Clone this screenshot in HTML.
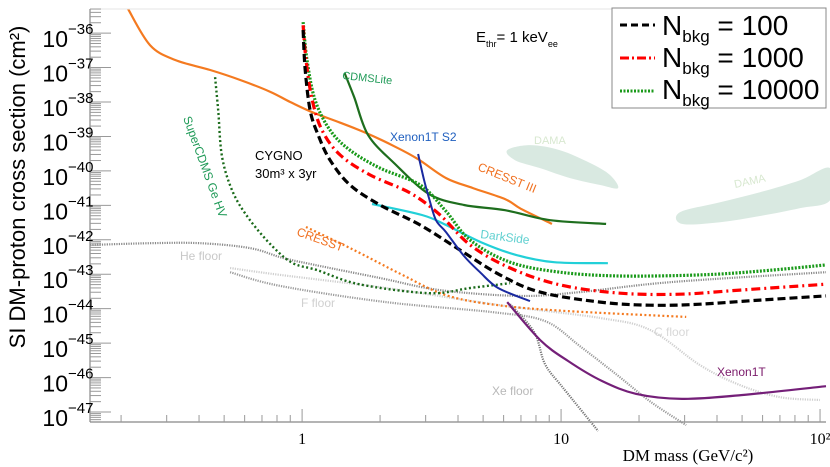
<!DOCTYPE html>
<html><head><meta charset="utf-8">
<style>
html,body{margin:0;padding:0;background:#fff;}
svg{display:block;font-family:"Liberation Sans",sans-serif;}
</style></head>
<body>
<svg id="chart" width="830" height="467" viewBox="0 0 830 467" xmlns="http://www.w3.org/2000/svg">
  <rect x="0" y="0" width="830" height="467" fill="#fff"/>
  <g id="regions"></g>
  <g id="series"></g>
  <g id="axes"></g>
  <g font-family="Liberation Sans, sans-serif">
    <text x="255" y="160" font-size="13" fill="#000">CYGNO</text>
    <text x="255" y="178" font-size="13" fill="#000">30m³ x 3yr</text>
    <text x="476" y="42" font-size="15" fill="#000">E<tspan font-size="9" dy="5">thr</tspan><tspan dy="-5">= 1 keV</tspan><tspan font-size="9" dy="5">ee</tspan></text>
    <text x="342" y="79" font-size="11" fill="#1f9a57" transform="rotate(6 342 79)">CDMSLite</text>
    <text x="390" y="141" font-size="12" fill="#1f5fbf">Xenon1T S2</text>
    <text x="477" y="170" font-size="12" fill="#f07020" transform="rotate(22 477 170)">CRESST III</text>
    <text x="534" y="144" font-size="11" fill="#d8e8d0">DAMA</text>
    <text x="735" y="188" font-size="11" fill="#d8e8d0" transform="rotate(-12 735 188)">DAMA</text>
    <text x="183" y="118" font-size="12" fill="#1f9a57" transform="rotate(70 183 118)">SuperCDMS Ge HV</text>
    <text x="296" y="235" font-size="12" fill="#f07020" transform="rotate(20 296 235)">CRESST</text>
    <text x="480" y="238" font-size="12" fill="#5fd0d0" transform="rotate(7 480 238)">DarkSide</text>
    <text x="180" y="260" font-size="12" fill="#c8c8c8">He floor</text>
    <text x="301" y="307" font-size="12" fill="#d0d0d0">F floor</text>
    <text x="654" y="336" font-size="12" fill="#d8d8d8">C floor</text>
    <text x="492" y="395" font-size="12" fill="#b8b8b8">Xe floor</text>
    <text x="717" y="376" font-size="12" fill="#7a1a6a">Xenon1T</text>
  </g>
  <g>
    <rect x="612" y="8" width="214" height="100" fill="#fff" stroke="#888" stroke-width="1"/>
    <line x1="620" y1="25" x2="655" y2="25" stroke="#000" stroke-width="3" stroke-dasharray="7,4"/>
    <text x="662" y="35" font-size="28" fill="#000">N<tspan font-size="17" dy="7">bkg</tspan><tspan dy="-7"> = 100</tspan></text>
    <line x1="620" y1="58" x2="655" y2="58" stroke="#f00" stroke-width="3" stroke-dasharray="9,3,2,3"/>
    <text x="662" y="67" font-size="28" fill="#000">N<tspan font-size="17" dy="7">bkg</tspan><tspan dy="-7"> = 1000</tspan></text>
    <line x1="620" y1="91" x2="655" y2="91" stroke="#1a9a1a" stroke-width="3" stroke-dasharray="2,1.5"/>
    <text x="662" y="99" font-size="28" fill="#000">N<tspan font-size="17" dy="7">bkg</tspan><tspan dy="-7"> = 10000</tspan></text>
  </g>
</svg>
<script>
// axis ranges (log10 of mass in GeV, log10 of cross-section in cm^2)
const xLogMin = -0.819, xLogMax = 2.023;
const yLogTop = -35.3, yLogBottom = -47.29;
const xTickExps = [0, 1, 2];
const xTickLabels = ["1", "10", "10²"];
const yTickExps = [-36,-37,-38,-39,-40,-41,-42,-43,-44,-45,-46,-47];
const yTickLabels = ["-36","-37","-38","-39","-40","-41","-42","-43","-44","-45","-46","-47"];

// series data: logMass = log10(m/GeV), logSigma = log10(sigma/cm^2)
const n100Mass  = [0.004,0.012,0.031,0.062,0.108,0.185,0.301,0.456,0.610,0.764,0.919,1.151,1.344,1.537,1.768,2.023];
const n100Sigma = [-35.91,-37.07,-38.24,-38.96,-39.69,-40.41,-40.99,-41.57,-42.30,-43.02,-43.52,-43.81,-43.90,-43.87,-43.75,-43.63];
const n1000Mass  = [0.004,0.015,0.039,0.077,0.147,0.263,0.417,0.533,0.649,0.803,0.996,1.228,1.459,1.691,2.023];
const n1000Sigma = [-35.77,-36.78,-37.94,-38.82,-39.54,-40.12,-40.64,-41.28,-42.15,-42.82,-43.31,-43.55,-43.58,-43.46,-43.29];
const n10000Mass  = [0.004,0.019,0.050,0.108,0.185,0.301,0.456,0.552,0.649,0.803,0.996,1.228,1.537,1.768,2.023];
const n10000Sigma = [-35.68,-36.78,-37.94,-38.82,-39.40,-39.92,-40.41,-41.14,-42.01,-42.65,-42.94,-43.05,-43.02,-42.91,-42.73];
const cresst3Mass  = [-0.672,-0.587,-0.490,-0.355,-0.239,-0.124,-0.046,0.04,0.147,0.247,0.36,0.448,0.556,0.66,0.784,0.845,0.965];
const cresst3Sigma = [-35.30,-36.35,-36.78,-37.07,-37.36,-37.70,-38.0,-38.3,-38.6,-38.90,-39.3,-39.66,-40.21,-40.5,-40.82,-41.1,-41.54];
const cdmsliteMass  = [0.164,0.201,0.255,0.355,0.490,0.625,0.784,0.958,1.174];
const cdmsliteSigma = [-37.16,-37.86,-38.96,-39.77,-40.67,-40.99,-41.14,-41.43,-41.54];
const xenonS2Mass  = [0.448,0.471,0.490,0.517,0.556,0.625,0.687,0.757,0.880];
const xenonS2Sigma = [-39.51,-40.27,-40.79,-41.43,-41.78,-42.47,-42.94,-43.40,-43.78];
const darksideMass  = [0.270,0.463,0.556,0.691,0.826,0.973,1.181];
const darksideSigma = [-40.96,-41.28,-41.57,-42.07,-42.44,-42.65,-42.68];
const cresstMass  = [0.015,0.193,0.382,0.556,0.757,1.027,1.483];
const cresstSigma = [-41.63,-42.27,-43.0,-43.61,-43.90,-44.07,-44.24];
const supercdmsMass  = [-0.336,-0.324,-0.309,-0.266,-0.201,-0.112,-0.035,0.058,0.220,0.490,0.649,0.803];
const supercdmsSigma = [-37.28,-38.24,-39.60,-40.64,-41.43,-42.21,-42.68,-42.88,-43.29,-43.55,-43.40,-43.26];
const xenon1tMass  = [0.792,0.919,1.027,1.158,1.293,1.467,1.695,2.023];
const xenon1tSigma = [-43.81,-44.91,-45.52,-46.10,-46.48,-46.62,-46.51,-46.25];
const heFloorMass  = [-0.819,-0.587,-0.394,-0.201,-0.073,0.069,0.301,0.533,0.842,1.073,1.421,2.023];
const heFloorSigma = [-42.15,-42.10,-42.10,-42.24,-42.53,-42.76,-43.11,-43.46,-43.63,-43.52,-43.23,-42.94];
const fFloorMass  = [-0.278,-0.085,0.324,0.734,0.938,1.073,1.212,1.347,1.483];
const fFloorSigma = [-42.94,-43.34,-43.81,-44.10,-44.36,-45.09,-45.90,-46.71,-47.38];
const cFloorMass  = [-0.278,-0.085,0.324,0.764,1.151,1.344,1.537,1.691,1.846,2.0];
const cFloorSigma = [-42.82,-43.02,-43.40,-43.90,-44.27,-44.62,-45.64,-46.22,-46.57,-46.65];
const xeFloorMass  = [0.803,0.896,0.938,1.008,1.143];
const xeFloorSigma = [-43.87,-44.68,-45.61,-46.30,-47.55];
const dama1Mass  = [0.792,0.880,0.996,1.112,1.189,1.220,1.151,1.035,0.919,0.822];
const dama1Sigma = [-39.40,-39.25,-39.40,-39.77,-40.12,-40.50,-40.41,-40.21,-39.92,-39.69];
const dama2Mass  = [1.459,1.614,1.768,1.923,2.039,2.039,1.923,1.768,1.614,1.466];
const dama2Sigma = [-41.20,-40.91,-40.62,-40.27,-39.92,-40.85,-41.08,-41.31,-41.49,-41.54];

const X0 = 90, X1 = 826, Y0 = 9, Y1 = 422;
function xScale(lm){ return X0 + (lm - xLogMin) / (xLogMax - xLogMin) * (X1 - X0); }
function yScale(ls){ return Y0 + (yLogTop - ls) / (yLogTop - yLogBottom) * (Y1 - Y0); }
const NS = "http://www.w3.org/2000/svg";

function smoothD(ms, ss, closed){
  const p = ms.map((m,i)=>[xScale(m), yScale(ss[i])]);
  const n = p.length;
  let d = "M" + p[0][0].toFixed(1) + "," + p[0][1].toFixed(1);
  const get = i => closed ? p[(i+n)%n] : p[Math.max(0, Math.min(n-1, i))];
  const last = closed ? n : n-1;
  for (let i = 0; i < last; i++){
    const p0 = get(i-1), p1 = get(i), p2 = get(i+1), p3 = get(i+2);
    const c1x = p1[0] + (p2[0]-p0[0])/6, c1y = p1[1] + (p2[1]-p0[1])/6;
    const c2x = p2[0] - (p3[0]-p1[0])/6, c2y = p2[1] - (p3[1]-p1[1])/6;
    d += " C" + c1x.toFixed(1)+","+c1y.toFixed(1)+" "+c2x.toFixed(1)+","+c2y.toFixed(1)+" "+p2[0].toFixed(1)+","+p2[1].toFixed(1);
  }
  return d + (closed ? " Z" : "");
}

const regions = document.getElementById('regions');
[[dama1Mass,dama1Sigma,'dama-region-1'],[dama2Mass,dama2Sigma,'dama-region-2']].forEach(r=>{
  const p = document.createElementNS(NS,'path');
  p.setAttribute('d', smoothD(r[0], r[1], true));
  p.setAttribute('fill', '#d9e9e1');
  p.setAttribute('stroke', 'none');
  
  
  regions.appendChild(p);
});

const seriesG = document.getElementById('series');
const seriesList = [
  [heFloorMass, heFloorSigma, '#8a8a8a', 2.2, '1.2,1.2', 'he-floor-line'],
  [cFloorMass, cFloorSigma, '#cfcfcf', 2.2, '1.2,1.2', 'c-floor-line'],
  [fFloorMass, fFloorSigma, '#9a9a9a', 2.2, '1.2,1.2', 'f-floor-line'],
  [xeFloorMass, xeFloorSigma, '#777', 2.2, '1.2,1.2', 'xe-floor-line'],
  [cresst3Mass, cresst3Sigma, '#f47a20', 2.2, null, 'cresst-iii-line'],
  [cdmsliteMass, cdmsliteSigma, '#1e6e1e', 2.2, null, 'cdmslite-line'],
  [darksideMass, darksideSigma, '#22d0d8', 2.2, null, 'darkside-line'],
  [cresstMass, cresstSigma, '#f47a20', 2.2, '2,2.5', 'cresst-line'],
  [supercdmsMass, supercdmsSigma, '#1a6a1a', 2.4, '2,2.5', 'supercdms-line'],
  [xenon1tMass, xenon1tSigma, '#741f78', 2.2, null, 'xenon1t-line'],
  [n10000Mass, n10000Sigma, '#1a9a1a', 3.2, '2,1.5', 'nbkg-10000-line'],
  [n1000Mass, n1000Sigma, '#ff0000', 3.2, '9,4,2,4', 'nbkg-1000-line'],
  [n100Mass, n100Sigma, '#000', 3.2, '8,4', 'nbkg-100-line'],
  [xenonS2Mass, xenonS2Sigma, '#1a2aa0', 2, null, 'xenon1t-s2-line']
];
seriesList.forEach(s=>{
  const p = document.createElementNS(NS,'path');
  p.setAttribute('d', smoothD(s[0], s[1], false));
  p.setAttribute('fill','none');
  p.setAttribute('stroke', s[2]);
  p.setAttribute('stroke-width', s[3]);
  if (s[4]) p.setAttribute('stroke-dasharray', s[4]);
  
  
  seriesG.appendChild(p);
});

const axes = document.getElementById('axes');
function line(x1,y1,x2,y2,col,w,name){
  const l = document.createElementNS(NS,'line');
  l.setAttribute('x1',x1); l.setAttribute('y1',y1); l.setAttribute('x2',x2); l.setAttribute('y2',y2);
  l.setAttribute('stroke',col); l.setAttribute('stroke-width',w);
  
  
  axes.appendChild(l);
}
line(X0, Y0, X0, Y1, '#888', 1.2, 'y-axis-line');
line(X0, Y1, X1, Y1, '#888', 1.2, 'x-axis-line');
line(X0, Y0, X1, Y0, '#e6e6e6', 1, 'top-frame-line');

for (let e = -48; e <= -35; e++){
  for (let k = 1; k <= 9; k++){
    const ls = e + Math.log10(k);
    const y = yScale(ls);
    if (y < Y0 || y > Y1) continue;
    line(X0, y, X0 + (k===1 ? 21 : 11), y, '#999', 1, 'y-tick');
  }
}
yTickExps.forEach((e,i)=>{
  const t = document.createElementNS(NS,'text');
  t.setAttribute('x', 68); t.setAttribute('y', yScale(e) + 14);
  t.setAttribute('text-anchor','end');
  t.setAttribute('font-size','23');
  t.setAttribute('fill','#000');
  t.textContent = '10';
  
  
  const sup = document.createElementNS(NS,'text');
  sup.setAttribute('x', 68); sup.setAttribute('y', yScale(e) + 1);
  sup.setAttribute('font-size','15');
  sup.setAttribute('fill','#000');
  sup.textContent = yTickLabels[i].replace('-', '\u2212');
  
  
  axes.appendChild(t); axes.appendChild(sup);
});

for (let e = -1; e <= 2; e++){
  for (let k = 1; k <= 9; k++){
    const lm = e + Math.log10(k);
    const x = xScale(lm);
    if (x < X0 || x > X1 + 1) continue;
    line(x, Y1, x, Y1 - (k===1 ? 13 : 7), '#999', 1, 'x-tick');
  }
}
xTickExps.forEach((e,i)=>{
  const t = document.createElementNS(NS,'text');
  t.setAttribute('x', xScale(e)); t.setAttribute('y', 444);
  t.setAttribute('text-anchor','middle');
  t.setAttribute('font-size','16');
  t.setAttribute('font-family','Liberation Serif, serif');
  t.setAttribute('fill','#000');
  t.textContent = xTickLabels[i];
  
  
  axes.appendChild(t);
});

const xt = document.createElementNS(NS,'text');
xt.setAttribute('x', 688); xt.setAttribute('y', 461);
xt.setAttribute('text-anchor','middle');
xt.setAttribute('font-size','17');
xt.setAttribute('font-family','Liberation Serif, serif');
xt.textContent = 'DM mass (GeV/c²)';


axes.appendChild(xt);

const yt = document.createElementNS(NS,'text');
yt.setAttribute('x', 0); yt.setAttribute('y', 0);
yt.setAttribute('text-anchor','middle');
yt.setAttribute('font-size','22');
yt.setAttribute('transform','translate(25,187) rotate(-90)');
yt.textContent = 'SI DM-proton cross section (cm²)';


axes.appendChild(yt);
</script>
</body></html>
